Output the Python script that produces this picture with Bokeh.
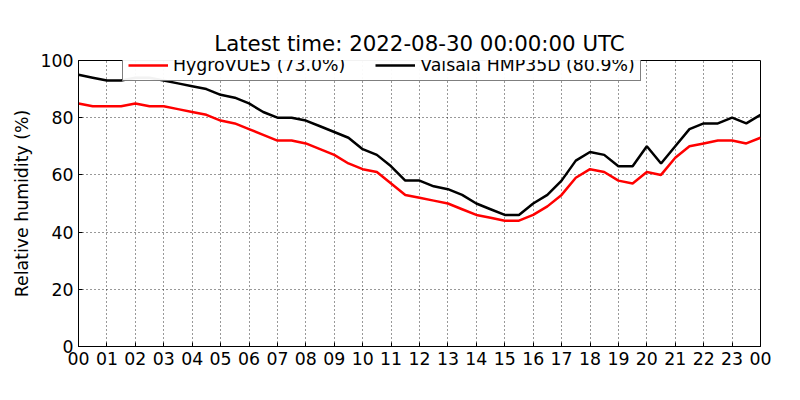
from bokeh.plotting import figure
from bokeh.models import Legend, LegendItem, FixedTicker, Range1d, Title
from bokeh.embed import file_html
from bokeh.resources import INLINE

hours = [i*0.5 for i in range(49)]
vaisala = [95,94,93,93,94,94,93,92,91,90,88,87,85,82,80,80,79,77,75,73,69,67,63,58,58,56,55,53,50,48,46,46,50,53,58,65,68,67,63,63,70,64,70,76,78,78,80,78,81]
hygro = [85,84,84,84,85,84,84,83,82,81,79,78,76,74,72,72,71,69,67,64,62,61,57,53,52,51,50,48,46,45,44,44,46,49,53,59,62,61,58,57,61,60,66,70,71,72,72,71,73]
xlabels = ["%02d" % (h % 24) for h in range(25)]

p = figure(width=784, height=384, output_backend="svg", toolbar_location=None,
           x_range=Range1d(0, 24), y_range=Range1d(0, 100),
           min_border_left=78, min_border_right=24, min_border_bottom=38, min_border_top=60)
p.title = Title(text="Latest time: 2022-08-30 00:00:00 UTC", align="center",
                text_font="DejaVu Sans", text_font_size="16pt", text_font_style="normal",
                text_color="black")
r1 = p.line(hours, hygro, color="red", line_width=2.5)
r2 = p.line(hours, vaisala, color="black", line_width=2.5)
leg = Legend(items=[LegendItem(label="HygroVUE5 (73.0%)", renderers=[r1]),
                    LegendItem(label="Vaisala HMP35D (80.9%)", renderers=[r2])],
             orientation="horizontal", location=(44, 265),
             label_text_font="DejaVu Sans", label_text_font_size="13pt", label_text_color="black",
             border_line_color="black", border_line_width=1, padding=5, spacing=30,
             glyph_width=40, margin=0)
p.add_layout(leg, "center")
p.xaxis.ticker = FixedTicker(ticks=list(range(25)))
p.xaxis.major_label_overrides = {i: xlabels[i] for i in range(25)}
p.yaxis.ticker = FixedTicker(ticks=[0, 20, 40, 60, 80, 100])
p.yaxis.axis_label = "Relative humidity (%)"
for ax in (p.xaxis, p.yaxis):
    ax.major_label_text_font = "DejaVu Sans"
    ax.major_label_text_font_size = "13pt"
    ax.major_label_text_color = "black"
    ax.major_tick_in = 4
    ax.major_tick_out = 0
    ax.minor_tick_line_color = None
    ax.axis_line_color = "black"
p.yaxis.axis_label_text_font = "DejaVu Sans"
p.yaxis.axis_label_text_font_size = "13pt"
p.yaxis.axis_label_text_font_style = "normal"
p.yaxis.axis_label_text_color = "black"
p.grid.grid_line_color = "black"
p.grid.grid_line_dash = "1 3"
p.grid.grid_line_alpha = 0.8
p.outline_line_color = "black"

open("out.html", "w").write(file_html(p, INLINE))
